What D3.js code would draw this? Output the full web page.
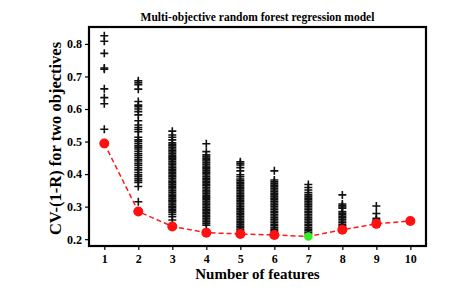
<!DOCTYPE html>
<html>
<head>
<meta charset="utf-8">
<script src="https://cdn.jsdelivr.net/npm/d3@7/dist/d3.min.js"></script>
<style>
  html, body { margin: 0; padding: 0; background: #fff; }
  svg { display: block; }
  text { font-family: "Liberation Serif", "Times New Roman", serif; font-weight: bold; }
</style>
</head>
<body>
<svg id="chart" width="460" height="290"></svg>
<script>
// ---- data ----
const featureCounts = [1, 2, 3, 4, 5, 6, 7, 8, 9, 10];
const bestScores = [0.494, 0.285, 0.239, 0.220, 0.216, 0.213, 0.208, 0.229, 0.247, 0.256];
const optimalFeatureCount = 7;

const scores1 = [0.825, 0.808, 0.771, 0.726, 0.722, 0.662, 0.635, 0.616, 0.538];
const scores2 = [0.687, 0.681, 0.675, 0.661, 0.623, 0.612, 0.607, 0.600, 0.592, 0.582, 0.564, 0.551,
  0.543, 0.537, 0.530, 0.513, 0.505, 0.500, 0.494, 0.488, 0.483, 0.477, 0.470, 0.463, 0.457, 0.451,
  0.445, 0.440, 0.433, 0.427, 0.420, 0.413, 0.405, 0.398, 0.393, 0.386, 0.380, 0.374, 0.362, 0.315];
const scores3 = [0.532, 0.520, 0.513, 0.505, 0.496, 0.491, 0.487, 0.482, 0.477, 0.472, 0.468, 0.463,
  0.458, 0.453, 0.449, 0.444, 0.439, 0.434, 0.430, 0.425, 0.420, 0.415, 0.411, 0.406, 0.401, 0.396,
  0.392, 0.387, 0.382, 0.377, 0.373, 0.368, 0.363, 0.358, 0.354, 0.349, 0.344, 0.339, 0.335, 0.330,
  0.325, 0.320, 0.316, 0.311, 0.306, 0.301, 0.297, 0.292, 0.287, 0.282, 0.276, 0.269, 0.259];
const scores4 = [0.493, 0.469, 0.459, 0.454, 0.449, 0.444, 0.440, 0.435, 0.430, 0.425, 0.421, 0.416,
  0.411, 0.406, 0.402, 0.397, 0.392, 0.387, 0.383, 0.378, 0.373, 0.368, 0.364, 0.359, 0.354, 0.349,
  0.345, 0.340, 0.335, 0.330, 0.326, 0.321, 0.316, 0.311, 0.307, 0.302, 0.297, 0.292, 0.288, 0.283,
  0.278, 0.273, 0.269, 0.264, 0.259, 0.254, 0.249, 0.243];
const scores5 = [0.438, 0.433, 0.428, 0.420, 0.410, 0.398, 0.392, 0.385, 0.380, 0.375, 0.370, 0.365,
  0.360, 0.355, 0.350, 0.345, 0.340, 0.335, 0.330, 0.325, 0.320, 0.315, 0.310, 0.305, 0.300, 0.295,
  0.290, 0.285, 0.280, 0.275, 0.270, 0.265, 0.260, 0.255, 0.250, 0.245, 0.240, 0.235, 0.230, 0.225];
const scores6 = [0.410, 0.382, 0.376, 0.371, 0.366, 0.361, 0.356, 0.351, 0.346, 0.341, 0.336, 0.331,
  0.326, 0.321, 0.316, 0.311, 0.306, 0.301, 0.296, 0.291, 0.286, 0.281, 0.276, 0.271, 0.266, 0.261,
  0.256, 0.251, 0.246, 0.241, 0.236, 0.231, 0.226, 0.222];
const scores7 = [0.368, 0.359, 0.351, 0.343, 0.336, 0.331, 0.326, 0.321, 0.316, 0.311, 0.306, 0.301,
  0.296, 0.291, 0.286, 0.281, 0.276, 0.271, 0.266, 0.261, 0.256, 0.251, 0.246, 0.241, 0.236, 0.231,
  0.226, 0.221, 0.216];
const scores8 = [0.336, 0.308, 0.303, 0.299, 0.295, 0.285, 0.280, 0.275, 0.270, 0.266, 0.261, 0.256,
  0.251, 0.246, 0.241, 0.236];
const scores9 = [0.302, 0.279, 0.264, 0.259, 0.254, 0.250];
const scores10 = [];
const scoresByCount = [scores1, scores2, scores3, scores4, scores5, scores6, scores7, scores8, scores9, scores10];

const titleText = "Multi-objective random forest regression model";
const xLabelText = "Number of features";
const yLabelText = "CV-(1-R) for two objectives";
const yTicks = [0.2, 0.3, 0.4, 0.5, 0.6, 0.7, 0.8];

// ---- layout ----
const W = 460, H = 290;
const margin = { left: 89, right: 34, top: 27, bottom: 44 };
const iw = W - margin.left - margin.right;
const ih = H - margin.top - margin.bottom;

const svg = d3.select("#chart");
const g = svg.append("g").attr("transform", `translate(${margin.left},${margin.top})`);

const x = d3.scaleLinear().domain([0.55, 10.46]).range([0, iw]);
const y = d3.scaleLinear().domain([0.179, 0.852]).range([ih, 0]);

// scatter crosses
const pts = [];
scoresByCount.forEach((arr, i) => arr.forEach(v => pts.push({ n: featureCounts[i], v })));
const arm = 4;
const crosses = g.append("g").attr("class", "crosses");
crosses.selectAll("path").data(pts).enter().append("path")
  .attr("d", d => {
    const cx = x(d.n), cy = y(d.v);
    return `M${cx - arm},${cy}H${cx + arm}M${cx},${cy - arm}V${cy + arm}`;
  })
  .attr("stroke", "#111")
  .attr("stroke-width", 1.6)
  .attr("fill", "none");

// best line
const line = d3.line().x((d, i) => x(featureCounts[i])).y(d => y(d));
g.append("path").datum(bestScores)
  .attr("d", line)
  .attr("fill", "none")
  .attr("stroke", "#ff1a1a")
  .attr("stroke-width", 1.5)
  .attr("stroke-dasharray", "5,3");

g.selectAll("circle.best").data(bestScores).enter().append("circle")
  .attr("class", "best")
  .attr("cx", (d, i) => x(featureCounts[i]))
  .attr("cy", d => y(d))
  .attr("r", (d, i) => featureCounts[i] === optimalFeatureCount ? 4.3 : 5)
  .attr("fill", (d, i) => featureCounts[i] === optimalFeatureCount ? "#33ee22" : "#ff1111");

// axes
const xAxis = d3.axisBottom(x).tickValues(featureCounts).tickFormat(d3.format("d")).tickSize(4).tickPadding(4);
const yAxis = d3.axisLeft(y).tickValues(yTicks).tickFormat(d3.format(".1f")).tickSize(4).tickPadding(3);

const gx = g.append("g").attr("transform", `translate(0,${ih})`).call(xAxis);
const gy = g.append("g").call(yAxis);
[gx, gy].forEach(a => {
  a.select(".domain").remove();
  a.selectAll(".tick line").attr("stroke", "#000").attr("stroke-width", 1.2);
  a.selectAll(".tick text").attr("fill", "#000").style("font-size", "12px")
    .style("font-family", "'Liberation Serif', serif").style("font-weight", "bold");
});

// frame
g.append("rect").attr("x", 0).attr("y", 0).attr("width", iw).attr("height", ih)
  .attr("fill", "none").attr("stroke", "#000").attr("stroke-width", 2.2);

// title & labels
svg.append("text").attr("x", margin.left + iw / 2).attr("y", 21)
  .attr("text-anchor", "middle").style("font-size", "11.5px").text(titleText);
svg.append("text").attr("x", margin.left + iw / 2).attr("y", 279)
  .attr("text-anchor", "middle").style("font-size", "15px").text(xLabelText);
svg.append("text").attr("transform", `translate(61,${margin.top + ih / 2 + 2}) rotate(-90)`)
  .attr("text-anchor", "middle").style("font-size", "16.5px").text(yLabelText);
</script>
</body>
</html>
